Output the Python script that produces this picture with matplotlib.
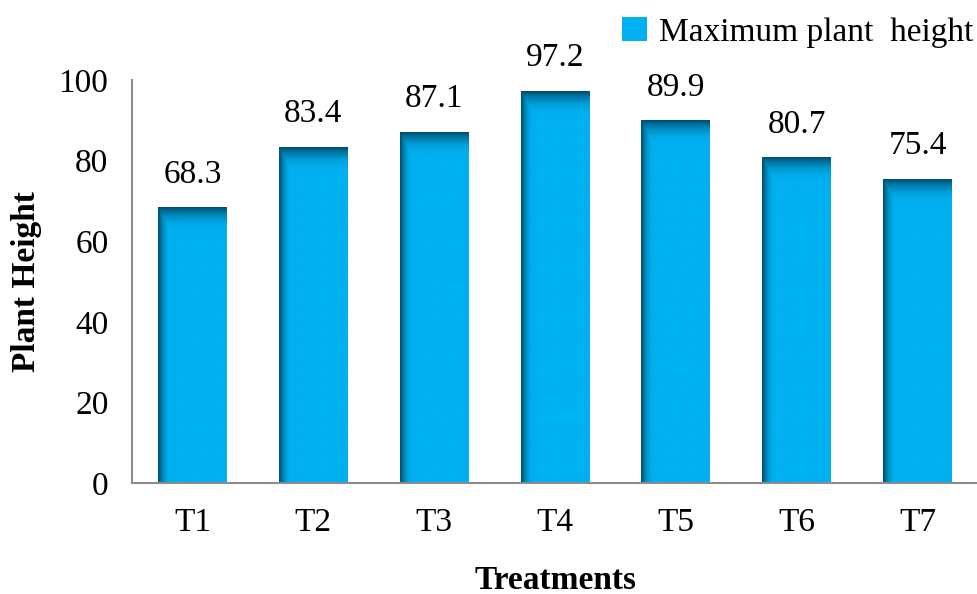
import numpy as np
import matplotlib.pyplot as plt
from matplotlib.patches import Rectangle

plt.rcParams['font.family'] = ['Liberation Serif', 'DejaVu Serif']

treatments = ["T1", "T2", "T3", "T4", "T5", "T6", "T7"]
heights = [68.3, 83.4, 87.1, 97.2, 89.9, 80.7, 75.4]
yticks = [0, 20, 40, 60, 80, 100]

base = np.array([0, 176, 240]) / 255.0
dark = np.array([0, 78, 108]) / 255.0
bar_w = 0.57


def bar_image(h, edge_x=0.17, edge_y=6.0):
    # shaded fill: dark band down the left side and along the top
    nx, ny = 120, 600
    xs = np.linspace(0, 1, nx)
    ys = np.linspace(0, h, ny)
    fx = np.clip(1 - xs / edge_x, 0, 1) ** 1.8
    fy = np.clip(1 - (h - ys) / edge_y, 0, 1) ** 2.2
    f = np.maximum(fx[None, :], fy[:, None])
    return base[None, None, :] * (1 - f[..., None]) + dark[None, None, :] * f[..., None]


fig, ax = plt.subplots(figsize=(9.78, 5.94), dpi=100)
fig.subplots_adjust(left=0.135, right=1.0, top=0.865, bottom=0.187)

x = np.arange(len(treatments))
for xi, h in zip(x, heights):
    ax.imshow(bar_image(h), extent=(xi - bar_w / 2, xi + bar_w / 2, 0, h),
              origin="lower", aspect="auto", zorder=2, interpolation="bilinear")
    ax.annotate(f"{h}", (xi, h), xytext=(0, 13), textcoords="offset points",
                ha="center", va="bottom", fontsize=24)

ax.set_xlim(-0.5, len(treatments) - 0.5)
ax.set_ylim(0, 100)
ax.set_xticks(x)
ax.set_xticklabels(treatments)
ax.set_yticks(yticks)
ax.tick_params(length=0, labelsize=24)
ax.tick_params(axis="x", pad=18)
ax.tick_params(axis="y", pad=17)

for s in ["top", "right"]:
    ax.spines[s].set_visible(False)
for s in ["left", "bottom"]:
    ax.spines[s].set_color("#8c8c8c")
    ax.spines[s].set_linewidth(1.5)

ax.set_ylabel("Plant Height", fontsize=24, fontweight="bold", labelpad=12)
ax.set_xlabel("Treatments", fontsize=24, fontweight="bold", labelpad=19)

handle = Rectangle((0, 0), 1, 1, facecolor=base, edgecolor="none")
ax.legend([handle], ["Maximum plant  height"], loc="upper right",
          bbox_to_anchor=(1.012, 1.0), bbox_transform=fig.transFigure,
          frameon=False, fontsize=24, handlelength=0.75, handleheight=0.75,
          handletextpad=0.35, borderaxespad=0.1)

fig.savefig("out.png", dpi=100)
